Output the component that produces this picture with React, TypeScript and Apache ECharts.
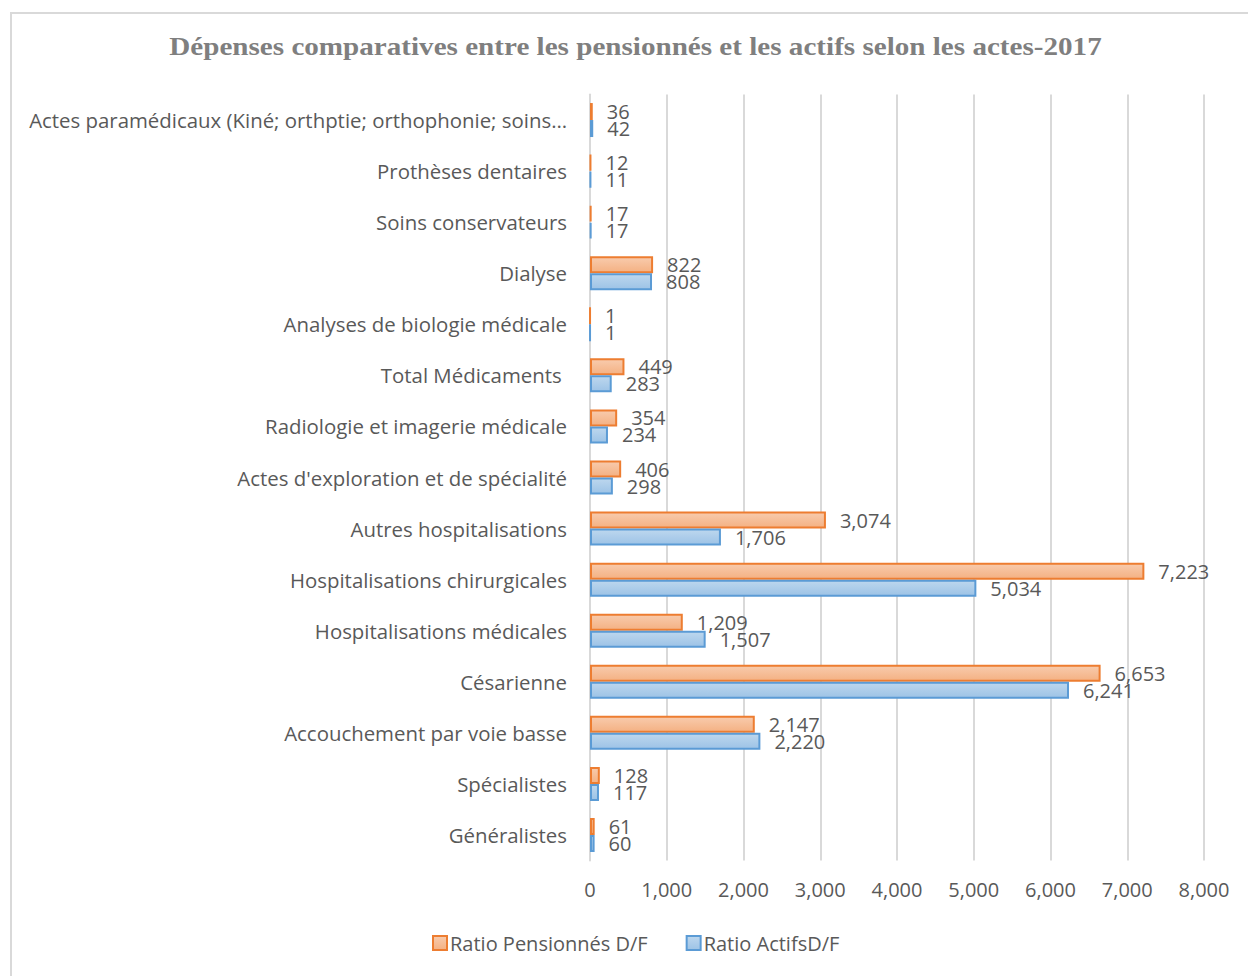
import React, { useEffect, useRef } from "react";
import * as echarts from "echarts";

const categories = [
  "Actes paramédicaux (Kiné; orthptie; orthophonie; soins…",
  "Prothèses dentaires",
  "Soins conservateurs",
  "Dialyse",
  "Analyses de biologie médicale",
  "Total Médicaments ",
  "Radiologie et imagerie médicale",
  "Actes d'exploration et de spécialité",
  "Autres hospitalisations",
  "Hospitalisations chirurgicales",
  "Hospitalisations médicales",
  "Césarienne",
  "Accouchement par voie basse",
  "Spécialistes",
  "Généralistes",
];

const pensionnes = [36, 12, 17, 822, 1, 449, 354, 406, 3074, 7223, 1209, 6653, 2147, 128, 61];
const actifs = [42, 11, 17, 808, 1, 283, 234, 298, 1706, 5034, 1507, 6241, 2220, 117, 60];

const seriesNames = ["Ratio Pensionnés D/F", "Ratio ActifsD/F"];
const xTicks = { min: 0, max: 8000, interval: 1000 };
const titleText = "Dépenses comparatives entre les pensionnés et les actifs selon les actes-2017";

const FONT = "Open Sans";
const TEXT = "#595959";
const FS = 20;

const fmt = (v: number) => v.toLocaleString("en-US");

export default function App() {
  const ref = useRef<HTMLDivElement>(null);
  useEffect(() => {
    document.body.style.margin = "0";
    const chart = echarts.init(ref.current!, null, { renderer: "svg" });
    const grad = (top: string, bottom: string) =>
      new echarts.graphic.LinearGradient(0, 0, 0, 1, [
        { offset: 0, color: top },
        { offset: 1, color: bottom },
      ]);
    const label = {
      show: true,
      position: "right",
      distance: 14,
      color: TEXT,
      fontFamily: FONT,
      fontSize: FS,
      formatter: (p: any) => fmt(p.value),
    };
    chart.setOption({
      animation: false,
      backgroundColor: "#ffffff",
      graphic: [
        {
          type: "rect",
          shape: { x: 11, y: 13, width: 1300, height: 1100 },
          style: { fill: "none", stroke: "#d9d9d9", lineWidth: 2 },
          silent: true,
        },
        {
          type: "text",
          x: 635.5,
          y: 46,
          scaleX: 1.12,
          style: {
            text: titleText,
            fontFamily: "Liberation Serif",
            fontWeight: "bold",
            fontSize: 26,
            fill: "#7f7f7f",
            align: "center",
            verticalAlign: "middle",
          },
          silent: true,
        },
      ],
      legend: {
        left: 427,
        top: 928,
        icon: "rect",
        itemWidth: 14,
        itemHeight: 14,
        itemGap: 38,
        textStyle: { color: TEXT, fontFamily: FONT, fontSize: FS, padding: [0, 0, 0, -2] },
        data: seriesNames,
      },
      grid: { left: 590, right: 44, top: 94.5, bottom: 115.5, containLabel: false },
      xAxis: {
        type: "value",
        min: xTicks.min,
        max: xTicks.max,
        interval: xTicks.interval,
        axisLine: { show: false },
        axisTick: { show: false },
        splitLine: { lineStyle: { color: "#d9d9d9", width: 2 } },
        axisLabel: {
          color: TEXT,
          fontFamily: FONT,
          fontSize: FS,
          margin: 19,
          formatter: (v: number) => fmt(v),
        },
      },
      yAxis: {
        type: "category",
        inverse: true,
        data: categories,
        axisLine: { show: true, lineStyle: { color: "#d9d9d9", width: 2 } },
        axisTick: { show: false },
        axisLabel: { color: TEXT, fontFamily: FONT, fontSize: 20.4, margin: 23 },
      },
      series: [
        {
          name: seriesNames[0],
          type: "bar",
          data: pensionnes,
          barWidth: 17,
          barGap: "0%",
          itemStyle: { color: grad("#f8cbad", "#f4b183"), borderColor: "#ed7d31", borderWidth: 2 },
          label,
        },
        {
          name: seriesNames[1],
          type: "bar",
          data: actifs,
          barWidth: 17,
          barGap: "0%",
          itemStyle: { color: grad("#bdd7ee", "#9dc3e6"), borderColor: "#5b9bd5", borderWidth: 2 },
          label,
        },
      ],
    });
    return () => chart.dispose();
  }, []);
  return <div ref={ref} style={{ width: 1248, height: 976 }} />;
}
